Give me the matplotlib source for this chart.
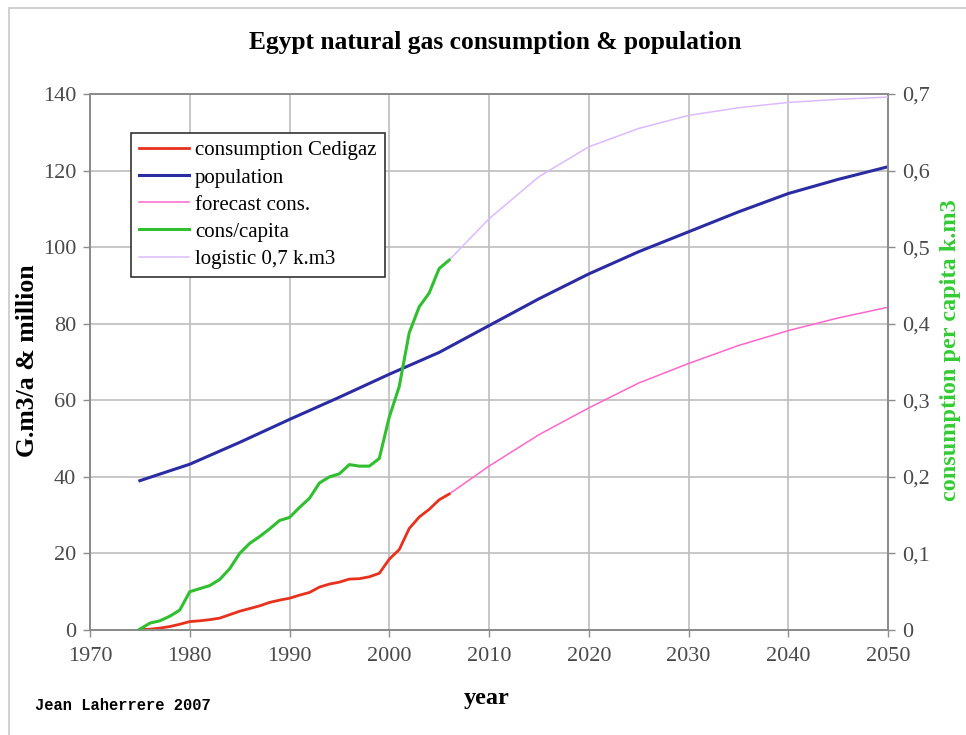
import matplotlib
matplotlib.use("Agg")
import matplotlib.pyplot as plt
from matplotlib.patches import Rectangle
from matplotlib.ticker import FuncFormatter

plt.rcParams['font.family'] = ['Liberation Serif', 'DejaVu Serif']

# Historical gas consumption (G.m3/a)
cons_years = list(range(1975, 2007))
cons_values = [0.1, 0.2, 0.5, 0.9, 1.5, 2.2, 2.4, 2.7, 3.1, 4.0, 4.9, 5.6, 6.3, 7.2,
               7.8, 8.3, 9.1, 9.8, 11.2, 12.0, 12.5, 13.3, 13.4, 13.9, 14.8, 18.5,
               21.0, 26.5, 29.5, 31.5, 34.0, 35.5]

# Consumption per capita (k.m3), right axis
percap_values = [0.001, 0.009, 0.012, 0.018, 0.026, 0.050, 0.054, 0.058, 0.066,
                 0.080, 0.100, 0.113, 0.122, 0.132, 0.143, 0.147, 0.160, 0.172,
                 0.192, 0.200, 0.204, 0.216, 0.214, 0.214, 0.224, 0.278, 0.318,
                 0.388, 0.422, 0.440, 0.472, 0.483]

# Population (million)
pop_years = [1975, 1980, 1985, 1990, 1995, 2000, 2005, 2010, 2015, 2020, 2025,
             2030, 2035, 2040, 2045, 2050]
pop_values = [39.0, 43.3, 49.0, 55.0, 60.8, 66.8, 72.5, 79.5, 86.5, 93.0, 98.8,
              104.0, 109.2, 114.0, 117.7, 121.0]

# Forecast consumption (G.m3/a) and logistic per-capita curve (k.m3)
fc_years = [2006, 2010, 2015, 2020, 2025, 2030, 2035, 2040, 2045, 2050]
fc_values = [35.5, 42.8, 51.0, 58.0, 64.5, 69.6, 74.3, 78.2, 81.5, 84.3]
logistic_values = [0.483, 0.537, 0.592, 0.631, 0.655, 0.672, 0.682, 0.689, 0.693, 0.696]

fig = plt.figure(figsize=(9.66, 7.35), dpi=100)
ax = fig.add_axes([90 / 966, 1 - 630 / 735, (888 - 90) / 966, (630 - 94) / 735])
ax2 = ax.twinx()

# Figure frame
fig.patches.append(Rectangle((9 / 966, -0.05), 1.0, 1 - 8 / 735 + 0.05,
                             transform=fig.transFigure, fill=False,
                             edgecolor='#c8c8c8', linewidth=1.2))

red = '#e8301c'
blue = '#2b2ba3'
pink = '#ff66cc'
green = '#2fbf2f'
lav = '#dcbaff'

l1, = ax.plot(cons_years, cons_values, color=red, lw=2.0, label='consumption Cedigaz', zorder=5)
l2, = ax.plot(pop_years, pop_values, color=blue, lw=2.2, label='population', zorder=5)
l3, = ax.plot(fc_years, fc_values, color=pink, lw=1.1, label='forecast cons.', zorder=4)
l4, = ax2.plot(cons_years, percap_values, color=green, lw=2.2, label='cons/capita', zorder=5)
l5, = ax2.plot(fc_years, logistic_values, color=lav, lw=1.1, label='logistic 0,7 k.m3', zorder=4)

ax.set_xlim(1970, 2050)
ax.set_ylim(0, 140)
ax2.set_ylim(0, 0.7)
ax.set_xticks(range(1970, 2051, 10))
ax.set_yticks(range(0, 141, 20))
ax2.set_yticks([0, 0.1, 0.2, 0.3, 0.4, 0.5, 0.6, 0.7])
ax2.yaxis.set_major_formatter(FuncFormatter(
    lambda v, p: '0' if v == 0 else f'{v:.1f}'.replace('.', ',')))

ax.grid(True, color='#bdbdbd', linewidth=1.2)
ax.set_axisbelow(True)

for a in (ax, ax2):
    for s in a.spines.values():
        s.set_color('#8c8c8c')
        s.set_linewidth(1.4)
    a.tick_params(colors='#8c8c8c', labelcolor='#4a4a4a', labelsize=16,
                  length=5, width=1.0)
ax.tick_params(axis='x', pad=7)
ax.tick_params(axis='y', pad=5)
ax2.tick_params(axis='y', pad=5)

fig.text(495 / 966, 1 - 42 / 735, 'Egypt natural gas consumption & population',
         fontsize=18.4, fontweight='bold', ha='center', va='center')
ax.set_xlabel('year', fontsize=17.5, fontweight='bold')
ax.xaxis.set_label_coords(0.4975, -0.127)
ax.xaxis.label.set_va('center')
ax.set_ylabel('G.m3/a & million', fontsize=18.5, fontweight='bold', va='center')
ax.yaxis.set_label_coords(-0.0777, 0.502)
ax2.set_ylabel('consumption per capita k.m3', fontsize=17.5, fontweight='bold',
               color='#33cc33', va='center')
ax2.yaxis.set_label_coords(1.0777, 0.522)

leg = ax.legend(handles=[l1, l2, l3, l4, l5], loc='upper left',
                bbox_to_anchor=(41 / 798, 1 - 39 / 536), fontsize=15,
                frameon=True, fancybox=False, framealpha=1, edgecolor='#333333',
                handlelength=2.4, handletextpad=0.3, labelspacing=0.36,
                borderpad=0.38, borderaxespad=0)
leg.get_frame().set_linewidth(1.2)
leg.set_zorder(10)

fig.text(35 / 966, 1 - 706 / 735, 'Jean Laherrere 2007', fontsize=11.2,
         fontweight='bold', family=['Liberation Mono', 'DejaVu Sans Mono'],
         va='center', ha='left')

fig.savefig('out.png', dpi=100)
